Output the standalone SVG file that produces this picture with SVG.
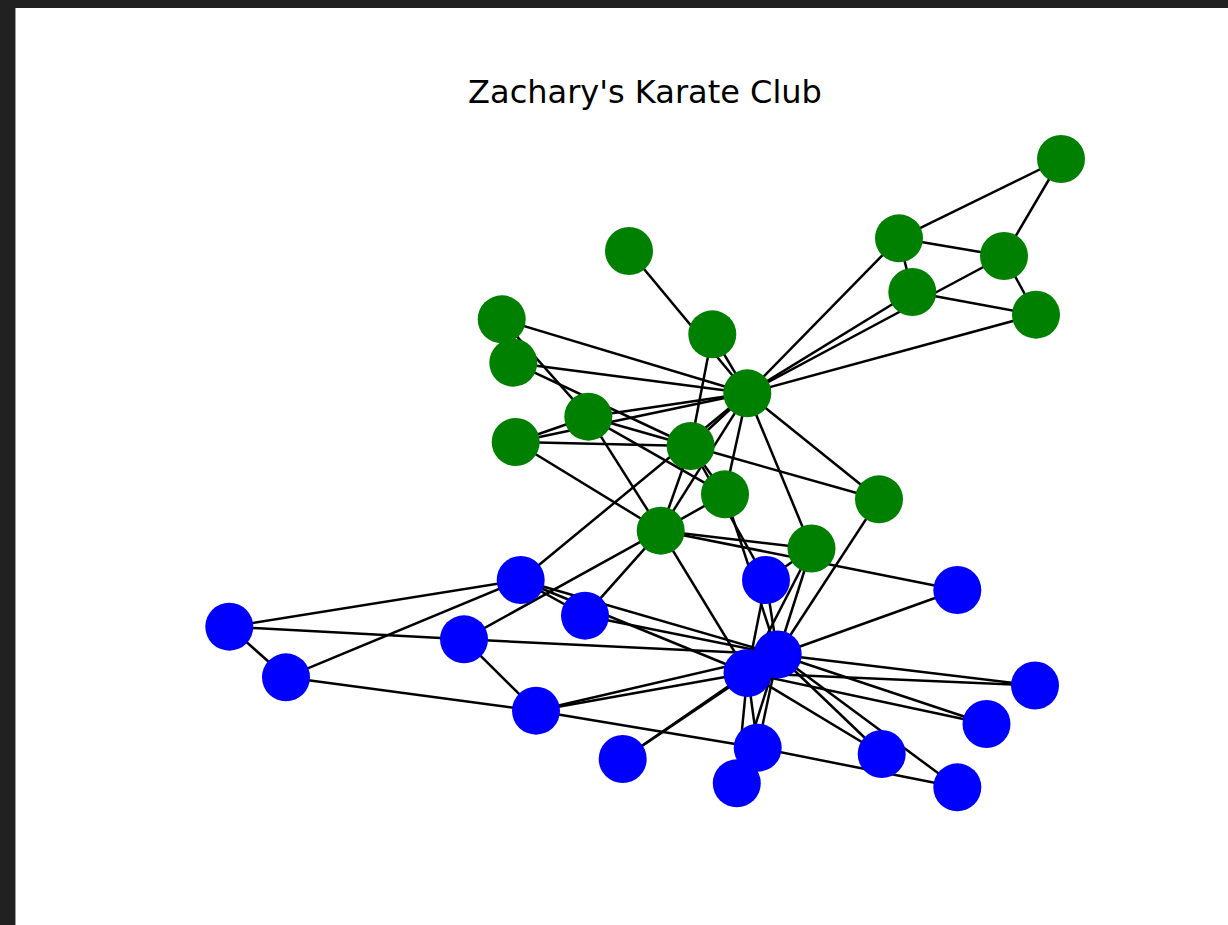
<svg xmlns="http://www.w3.org/2000/svg" width="1228" height="925" viewBox="0 0 1228 925">
<style>
.e line{stroke:#000;stroke-width:2.5;stroke-linecap:butt}
.g{fill:#008000}
.b{fill:#0000ff}
.t{font-family:"DejaVu Sans",sans-serif;font-size:32px;fill:#000}
</style>
<rect x="0" y="0" width="1228" height="925" fill="#212121"/>
<rect x="15" y="8" width="1213" height="917" fill="#9a9a9a"/>
<rect x="16" y="8" width="1212" height="917" fill="#ffffff"/>
<text class="t" x="645" y="103" text-anchor="middle">Zachary's Karate Club</text>
<g id="edges" class="e">
<line x1="747.3" y1="393.3" x2="690.7" y2="446"/>
<line x1="747.3" y1="393.3" x2="660.7" y2="530.7"/>
<line x1="747.3" y1="393.3" x2="588.3" y2="416.7"/>
<line x1="747.3" y1="393.3" x2="1036" y2="314.7"/>
<line x1="747.3" y1="393.3" x2="899" y2="238.3"/>
<line x1="747.3" y1="393.3" x2="1004" y2="256"/>
<line x1="747.3" y1="393.3" x2="515.7" y2="442"/>
<line x1="747.3" y1="393.3" x2="811.5" y2="548.5"/>
<line x1="747.3" y1="393.3" x2="912.3" y2="292"/>
<line x1="747.3" y1="393.3" x2="629" y2="251"/>
<line x1="747.3" y1="393.3" x2="501.7" y2="319.3"/>
<line x1="747.3" y1="393.3" x2="725" y2="494.3"/>
<line x1="747.3" y1="393.3" x2="513.3" y2="362.7"/>
<line x1="747.3" y1="393.3" x2="879" y2="499.3"/>
<line x1="747.3" y1="393.3" x2="712.3" y2="334.3"/>
<line x1="747.3" y1="393.3" x2="520.7" y2="580"/>
<line x1="690.7" y1="446" x2="660.7" y2="530.7"/>
<line x1="690.7" y1="446" x2="588.3" y2="416.7"/>
<line x1="690.7" y1="446" x2="515.7" y2="442"/>
<line x1="690.7" y1="446" x2="725" y2="494.3"/>
<line x1="690.7" y1="446" x2="513.3" y2="362.7"/>
<line x1="690.7" y1="446" x2="879" y2="499.3"/>
<line x1="690.7" y1="446" x2="712.3" y2="334.3"/>
<line x1="690.7" y1="446" x2="766" y2="580"/>
<line x1="660.7" y1="530.7" x2="588.3" y2="416.7"/>
<line x1="660.7" y1="530.7" x2="515.7" y2="442"/>
<line x1="660.7" y1="530.7" x2="811.5" y2="548.5"/>
<line x1="660.7" y1="530.7" x2="957.3" y2="590"/>
<line x1="660.7" y1="530.7" x2="725" y2="494.3"/>
<line x1="660.7" y1="530.7" x2="464" y2="639.3"/>
<line x1="660.7" y1="530.7" x2="585" y2="615.7"/>
<line x1="660.7" y1="530.7" x2="747.5" y2="673"/>
<line x1="588.3" y1="416.7" x2="515.7" y2="442"/>
<line x1="588.3" y1="416.7" x2="501.7" y2="319.3"/>
<line x1="588.3" y1="416.7" x2="725" y2="494.3"/>
<line x1="1036" y1="314.7" x2="1004" y2="256"/>
<line x1="1036" y1="314.7" x2="912.3" y2="292"/>
<line x1="899" y1="238.3" x2="1004" y2="256"/>
<line x1="899" y1="238.3" x2="912.3" y2="292"/>
<line x1="899" y1="238.3" x2="1061" y2="159"/>
<line x1="1004" y1="256" x2="1061" y2="159"/>
<line x1="811.5" y1="548.5" x2="766" y2="580"/>
<line x1="811.5" y1="548.5" x2="747.5" y2="673"/>
<line x1="811.5" y1="548.5" x2="777.7" y2="654.5"/>
<line x1="957.3" y1="590" x2="777.7" y2="654.5"/>
<line x1="725" y1="494.3" x2="777.7" y2="654.5"/>
<line x1="1035" y1="685.5" x2="747.5" y2="673"/>
<line x1="1035" y1="685.5" x2="777.7" y2="654.5"/>
<line x1="986.5" y1="724" x2="747.5" y2="673"/>
<line x1="986.5" y1="724" x2="777.7" y2="654.5"/>
<line x1="622.7" y1="759" x2="747.5" y2="673"/>
<line x1="622.7" y1="759" x2="777.7" y2="654.5"/>
<line x1="879" y1="499.3" x2="777.7" y2="654.5"/>
<line x1="881.7" y1="754" x2="747.5" y2="673"/>
<line x1="881.7" y1="754" x2="777.7" y2="654.5"/>
<line x1="736.8" y1="783.3" x2="747.5" y2="673"/>
<line x1="736.8" y1="783.3" x2="777.7" y2="654.5"/>
<line x1="536" y1="710.7" x2="286" y2="677.3"/>
<line x1="536" y1="710.7" x2="464" y2="639.3"/>
<line x1="536" y1="710.7" x2="757.7" y2="747.7"/>
<line x1="536" y1="710.7" x2="747.5" y2="673"/>
<line x1="536" y1="710.7" x2="777.7" y2="654.5"/>
<line x1="229.3" y1="626.7" x2="286" y2="677.3"/>
<line x1="229.3" y1="626.7" x2="464" y2="639.3"/>
<line x1="229.3" y1="626.7" x2="520.7" y2="580"/>
<line x1="286" y1="677.3" x2="520.7" y2="580"/>
<line x1="957.3" y1="787.3" x2="757.7" y2="747.7"/>
<line x1="957.3" y1="787.3" x2="777.7" y2="654.5"/>
<line x1="464" y1="639.3" x2="777.7" y2="654.5"/>
<line x1="585" y1="615.7" x2="520.7" y2="580"/>
<line x1="585" y1="615.7" x2="777.7" y2="654.5"/>
<line x1="757.7" y1="747.7" x2="747.5" y2="673"/>
<line x1="757.7" y1="747.7" x2="777.7" y2="654.5"/>
<line x1="766" y1="580" x2="747.5" y2="673"/>
<line x1="766" y1="580" x2="777.7" y2="654.5"/>
<line x1="520.7" y1="580" x2="747.5" y2="673"/>
<line x1="520.7" y1="580" x2="777.7" y2="654.5"/>
<line x1="747.5" y1="673" x2="777.7" y2="654.5"/>
</g>
<g id="n0"><circle class="g" cx="747.3" cy="393.3" r="24"/></g>
<g id="n1"><circle class="g" cx="690.7" cy="446" r="24"/></g>
<g id="n2"><circle class="g" cx="660.7" cy="530.7" r="24"/></g>
<g id="n3"><circle class="g" cx="588.3" cy="416.7" r="24"/></g>
<g id="n4"><circle class="g" cx="1036" cy="314.7" r="24"/></g>
<g id="n5"><circle class="g" cx="899" cy="238.3" r="24"/></g>
<g id="n6"><circle class="g" cx="1004" cy="256" r="24"/></g>
<g id="n7"><circle class="g" cx="515.7" cy="442" r="24"/></g>
<g id="n8"><circle class="g" cx="811.5" cy="548.5" r="24"/></g>
<g id="n9"><circle class="b" cx="957.3" cy="590" r="24"/></g>
<g id="n10"><circle class="g" cx="912.3" cy="292" r="24"/></g>
<g id="n11"><circle class="g" cx="629" cy="251" r="24"/></g>
<g id="n12"><circle class="g" cx="501.7" cy="319.3" r="24"/></g>
<g id="n13"><circle class="g" cx="725" cy="494.3" r="24"/></g>
<g id="n14"><circle class="b" cx="1035" cy="685.5" r="24"/></g>
<g id="n15"><circle class="b" cx="986.5" cy="724" r="24"/></g>
<g id="n16"><circle class="g" cx="1061" cy="159" r="24"/></g>
<g id="n17"><circle class="g" cx="513.3" cy="362.7" r="24"/></g>
<g id="n18"><circle class="b" cx="622.7" cy="759" r="24"/></g>
<g id="n19"><circle class="g" cx="879" cy="499.3" r="24"/></g>
<g id="n20"><circle class="b" cx="881.7" cy="754" r="24"/></g>
<g id="n21"><circle class="g" cx="712.3" cy="334.3" r="24"/></g>
<g id="n22"><circle class="b" cx="736.8" cy="783.3" r="24"/></g>
<g id="n23"><circle class="b" cx="536" cy="710.7" r="24"/></g>
<g id="n24"><circle class="b" cx="229.3" cy="626.7" r="24"/></g>
<g id="n25"><circle class="b" cx="286" cy="677.3" r="24"/></g>
<g id="n26"><circle class="b" cx="957.3" cy="787.3" r="24"/></g>
<g id="n27"><circle class="b" cx="464" cy="639.3" r="24"/></g>
<g id="n28"><circle class="b" cx="585" cy="615.7" r="24"/></g>
<g id="n29"><circle class="b" cx="757.7" cy="747.7" r="24"/></g>
<g id="n30"><circle class="b" cx="766" cy="580" r="24"/></g>
<g id="n31"><circle class="b" cx="520.7" cy="580" r="24"/></g>
<g id="n32"><circle class="b" cx="747.5" cy="673" r="24"/></g>
<g id="n33"><circle class="b" cx="777.7" cy="654.5" r="24"/></g>
</svg>
